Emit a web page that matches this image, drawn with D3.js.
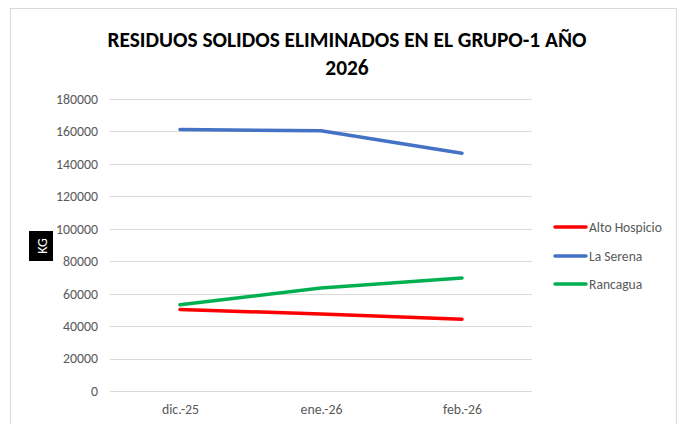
<!DOCTYPE html>
<html><head><meta charset="utf-8">
<script src="https://cdn.jsdelivr.net/npm/d3@7"></script>
<style>body{margin:0;background:#fff}svg{display:block}</style>
</head><body>
<script>
const categories = ["dic.-25", "ene.-26", "feb.-26"];
const seriesNames = ["Alto Hospicio", "La Serena", "Rancagua"];
const altoHospicio = [50300, 47400, 44300];
const laSerena = [161200, 160400, 146500];
const rancagua = [53200, 63500, 69700];
const yTicks = [0, 20000, 40000, 60000, 80000, 100000, 120000, 140000, 160000, 180000];
const colors = ["#ff0000", "#4472c4", "#00b050"];
const values = [altoHospicio, laSerena, rancagua];

const W = 683, H = 424;
const svg = d3.select("body").append("svg").attr("width", W).attr("height", H);
const font = "Calibri, Carlito, 'Liberation Sans Narrow', 'Arial Narrow', sans-serif";

svg.append("rect").attr("x", 10.5).attr("y", 8.5).attr("width", 666).attr("height", 430)
  .attr("fill", "#fff").attr("stroke", "#d9d9d9");

const x = d3.scalePoint().domain(categories).range([180, 462]);
const y = d3.scaleLinear().domain([0, 180000]).range([391, 99]);

// gridlines
svg.append("g").selectAll("line").data(yTicks).join("line")
  .attr("x1", 110).attr("x2", 532)
  .attr("y1", d => Math.round(y(d)) + 0.5).attr("y2", d => Math.round(y(d)) + 0.5)
  .attr("stroke", "#d9d9d9").attr("stroke-width", 1);

const yAxis = svg.append("g").attr("transform", "translate(110,0)")
  .call(d3.axisLeft(y).tickValues(yTicks).tickSize(0).tickPadding(12).tickFormat(d3.format("d")));
yAxis.select(".domain").remove();
yAxis.selectAll("text").attr("fill", "#595959").style("font-family", font).style("font-size", "13.8px");

const xAxis = svg.append("g").attr("transform", "translate(0,391)")
  .call(d3.axisBottom(x).tickSize(0).tickPadding(13));
xAxis.select(".domain").remove();
xAxis.selectAll("text").attr("fill", "#595959").style("font-family", font).style("font-size", "13.8px");

const line = d3.line().x((d, i) => x(categories[i])).y(d => y(d));
values.forEach((v, i) => {
  svg.append("path").datum(v).attr("d", line).attr("fill", "none")
    .attr("stroke", colors[i]).attr("stroke-width", 3.5).attr("stroke-linecap", "round").attr("stroke-linejoin", "round");
});

// title
const title = svg.append("text").attr("text-anchor", "middle").attr("font-family", font)
  .attr("font-weight", "bold").attr("font-size", "21.4px").attr("fill", "#000");
title.append("tspan").attr("x", 347).attr("y", 47).text("RESIDUOS SOLIDOS ELIMINADOS EN EL GRUPO-1 AÑO");
title.append("tspan").attr("x", 347).attr("y", 75).text("2026");

// KG label
svg.append("rect").attr("x", 29).attr("y", 231).attr("width", 24).attr("height", 30).attr("fill", "#000");
svg.append("text").attr("transform", "translate(46.5,246) rotate(-90)").attr("text-anchor", "middle")
  .attr("font-family", font).attr("font-size", "14px").attr("fill", "#fff").text("KG");

// legend
const lg = svg.append("g");
const ly = [227, 256, 284];
seriesNames.forEach((n, i) => {
  lg.append("line").attr("x1", 555).attr("x2", 586).attr("y1", ly[i]).attr("y2", ly[i])
    .attr("stroke", colors[i]).attr("stroke-width", 3.5).attr("stroke-linecap", "round");
  lg.append("text").attr("x", 589).attr("y", ly[i]).attr("dy", "0.35em")
    .attr("font-family", font).attr("font-size", "13.6px").attr("fill", "#595959").text(n);
});
</script>
</body></html>
